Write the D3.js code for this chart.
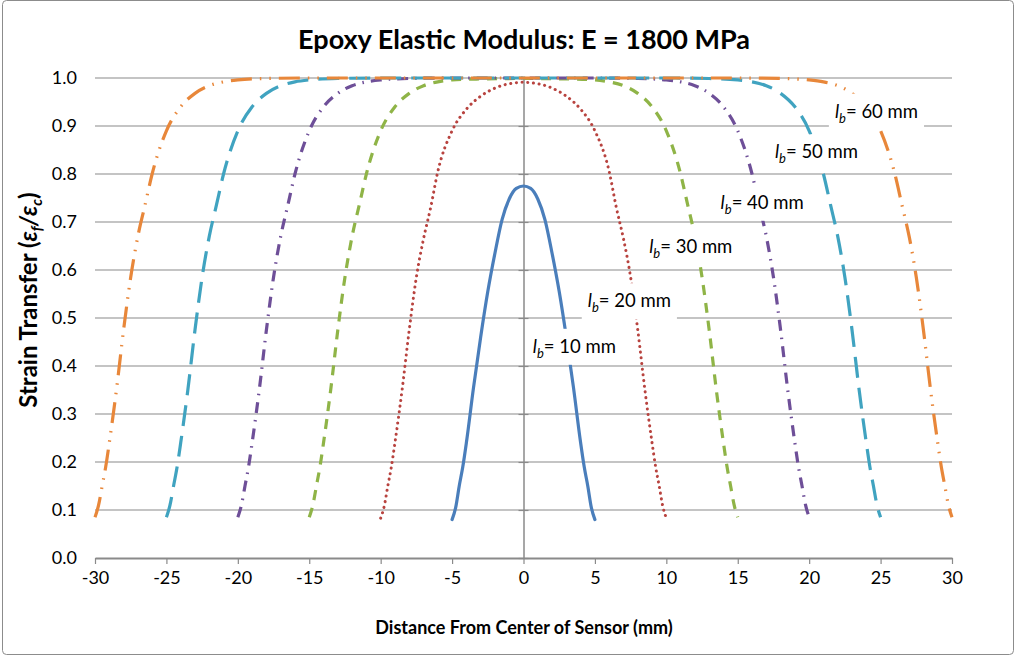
<!DOCTYPE html>
<html>
<head>
<meta charset="utf-8">
<script src="https://cdn.jsdelivr.net/npm/d3@7"></script>
<style>
  body { margin: 0; background: #fff; }
  text { font-family: Lato, "Open Sans", sans-serif; }
</style>
</head>
<body>
<div id="chart"></div>
<script>
// Chart values
const xTicks = [-30, -25, -20, -15, -10, -5, 0, 5, 10, 15, 20, 25, 30];
const yTicks = [0, 0.1, 0.2, 0.3, 0.4, 0.5, 0.6, 0.7, 0.8, 0.9, 1.0];

const x10 = [-5,-4.75,-4.5,-4.25,-4,-3.5,-3,-2.5,-2,-1.5,-1,-0.5,0,0.5,1,1.5,2,2.5,3,3.5,4,4.25,4.5,4.75,5];
const y10 = [0.08,0.105,0.15,0.19,0.24,0.355,0.46,0.555,0.635,0.705,0.748,0.77,0.775,0.77,0.748,0.705,0.635,0.555,0.46,0.355,0.24,0.19,0.15,0.105,0.08];

const x20 = [-10,-9.75,-9.5,-9.25,-9,-8.5,-8,-7.5,-7,-6.5,-6,-5,-4,-3,-2,-1,0,1,2,3,4,5,6,6.5,7,7.5,8,8.5,9,9.25,9.5,9.75,10];
const y20 = [0.083,0.108,0.15,0.19,0.24,0.35,0.475,0.585,0.665,0.73,0.805,0.89,0.935,0.962,0.979,0.988,0.991,0.988,0.979,0.962,0.935,0.89,0.805,0.73,0.665,0.585,0.475,0.35,0.24,0.19,0.15,0.108,0.083];

const x30 = [-15,-14.75,-14.5,-14.25,-14,-13.5,-13,-12.5,-12,-11.5,-11,-10,-9,-8,-7,-6,-5,-3,0,3,5,6,7,8,9,10,11,11.5,12,12.5,13,13.5,14,14.25,14.5,14.75,15];
const y30 = [0.085,0.11,0.15,0.19,0.24,0.35,0.475,0.585,0.67,0.735,0.8,0.89,0.94,0.968,0.984,0.992,0.996,0.998,0.999,0.998,0.996,0.992,0.984,0.968,0.94,0.89,0.8,0.735,0.67,0.585,0.475,0.35,0.24,0.19,0.15,0.11,0.085];

const x40 = [-20,-19.75,-19.5,-19.25,-19,-18.5,-18,-17.5,-17,-16.5,-16,-15,-14,-13,-12,-11,-10,-8,-5,0,5,8,10,11,12,13,14,15,16,16.5,17,17.5,18,18.5,19,19.25,19.5,19.75,20];
const y40 = [0.085,0.11,0.15,0.19,0.24,0.35,0.475,0.585,0.67,0.735,0.8,0.89,0.94,0.968,0.984,0.992,0.996,0.999,1,1,1,0.999,0.996,0.992,0.984,0.968,0.94,0.89,0.8,0.735,0.67,0.585,0.475,0.35,0.24,0.19,0.15,0.11,0.085];

const x50 = [-25,-24.75,-24.5,-24.25,-24,-23.5,-23,-22.5,-22,-21.5,-21,-20,-19,-18,-17,-16,-15,-13,-10,0,10,13,15,16,17,18,19,20,21,21.5,22,22.5,23,23.5,24,24.25,24.5,24.75,25];
const y50 = [0.085,0.11,0.15,0.19,0.24,0.35,0.475,0.585,0.67,0.735,0.8,0.89,0.94,0.968,0.984,0.992,0.996,0.999,1,1,1,0.999,0.996,0.992,0.984,0.968,0.94,0.89,0.8,0.735,0.67,0.585,0.475,0.35,0.24,0.19,0.15,0.11,0.085];

const x60 = [-30,-29.75,-29.5,-29.25,-29,-28.5,-28,-27.5,-27,-26.5,-26,-25,-24,-23,-22,-21,-20,-18,-15,0,15,18,20,21,22,23,24,25,26,26.5,27,27.5,28,28.5,29,29.25,29.5,29.75,30];
const y60 = [0.085,0.11,0.15,0.19,0.24,0.35,0.475,0.585,0.67,0.735,0.8,0.89,0.94,0.968,0.984,0.992,0.996,0.999,1,1,1,0.999,0.996,0.992,0.984,0.968,0.94,0.89,0.8,0.735,0.67,0.585,0.475,0.35,0.24,0.19,0.15,0.11,0.085];

const labels = ["10", "20", "30", "40", "50", "60"];
const labelX = [0.65, 4.5, 8.8, 13.8, 17.6, 21.8];   // left edge of each label, in mm
const labelY = [0.44, 0.535, 0.647, 0.74, 0.845, 0.93]; // label centre, strain transfer

// Set dimensions
const width = 1016, height = 656;
const mLeft = 95, mRight = 952, mTop = 78, mBottom = 558;

const svg = d3.select("#chart").append("svg")
  .attr("width", width).attr("height", height);

svg.append("rect")
  .attr("x", 2.5).attr("y", 0.5).attr("width", 1011).attr("height", 654)
  .attr("rx", 4).attr("fill", "#fff").attr("stroke", "#8c8c8c");

const x = d3.scaleLinear().domain([-30, 30]).range([mLeft, mRight]);
const y = d3.scaleLinear().domain([0, 1]).range([mBottom, mTop]);

// Gridlines
svg.append("g")
  .selectAll("line")
  .data(yTicks.slice(1)).enter()
  .append("line")
  .attr("x1", mLeft).attr("x2", mRight)
  .attr("y1", d => y(d)).attr("y2", d => y(d))
  .attr("stroke", "#8a8a8a").attr("stroke-width", 1.2);

// Y tick labels (at the left edge)
svg.append("g")
  .selectAll("text")
  .data(yTicks).enter()
  .append("text")
  .attr("x", 77).attr("y", d => y(d) + 6)
  .attr("text-anchor", "end")
  .attr("font-size", 18)
  .text(d => d.toFixed(1));

// Vertical axis at x = 0
const yAxis = svg.append("g")
  .attr("transform", "translate(" + x(0) + ",0)")
  .call(d3.axisLeft(y).tickValues(yTicks).tickSize(0).tickFormat(""));
yAxis.select(".domain").attr("stroke", "#8a8a8a").attr("stroke-width", 1.5);
yAxis.selectAll(".tick line").remove();
yAxis.selectAll(".tick").append("line")
  .attr("x1", -5).attr("x2", 5).attr("stroke", "#8a8a8a").attr("stroke-width", 1.2);

// X axis at bottom
const xAxis = svg.append("g")
  .attr("transform", "translate(0," + mBottom + ")")
  .call(d3.axisBottom(x).tickValues(xTicks).tickSize(6).tickPadding(7)
    .tickSizeOuter(0).tickFormat(d => String(d)));
xAxis.select(".domain").attr("stroke", "#8a8a8a").attr("stroke-width", 1.8);
xAxis.selectAll(".tick line").attr("stroke", "#8a8a8a").attr("stroke-width", 1.2);
xAxis.selectAll(".tick text")
  .attr("font-size", 18).attr("fill", "#000")
  .style("font-family", "Lato, sans-serif");

// Series
const series = [
  { xs: x10, ys: y10, color: "#4a7ebb", dash: null, cap: "round" },
  { xs: x20, ys: y20, color: "#b8433f", dash: "0.1 5.6", cap: "round" },
  { xs: x30, ys: y30, color: "#8fb447", dash: "10 8", cap: "butt" },
  { xs: x40, ys: y40, color: "#6e4f98", dash: "11 7 1.5 7", cap: "butt" },
  { xs: x50, ys: y50, color: "#40a3c0", dash: "21 10", cap: "butt" },
  { xs: x60, ys: y60, color: "#e8873a", dash: "21 8 1.5 8 1.5 8", cap: "butt" }
];

const line = d3.line()
  .x(d => x(d[0]))
  .y(d => y(d[1]))
  .curve(d3.curveMonotoneX);

svg.append("g")
  .selectAll("path")
  .data(series).enter()
  .append("path")
  .attr("d", s => line(s.xs.map((v, i) => [v, s.ys[i]])))
  .attr("fill", "none")
  .attr("stroke", s => s.color)
  .attr("stroke-width", s => s.dash === "0.1 5.6" ? 3 : 3.2)
  .attr("stroke-linecap", s => s.cap)
  .attr("stroke-dasharray", s => s.dash);

// Curve labels with white backing
const lab = svg.append("g");
labels.forEach(function (t, i) {
  const g = lab.append("g");
  const txt = g.append("text")
    .attr("x", x(labelX[i])).attr("y", y(labelY[i]) + 6)
    .attr("font-size", 18.5);
  txt.append("tspan").attr("font-style", "italic").text("l");
  txt.append("tspan").attr("font-style", "italic").attr("font-size", 13)
    .attr("dy", 5).text("b");
  txt.append("tspan").attr("dy", -5).text("= " + t + " mm");
  const b = txt.node().getBBox();
  g.insert("rect", "text")
    .attr("x", b.x - 6).attr("y", b.y - 6)
    .attr("width", b.width + 12).attr("height", b.height + 10)
    .attr("fill", "#fff");
});

// Title and axis titles
svg.append("text")
  .attr("x", 524).attr("y", 49)
  .attr("text-anchor", "middle")
  .attr("font-size", 27).attr("font-weight", "bold")
  .text("Epoxy Elastic Modulus: E = 1800 MPa");

svg.append("text")
  .attr("x", 524).attr("y", 634)
  .attr("text-anchor", "middle")
  .attr("font-size", 18).attr("font-weight", "bold")
  .text("Distance From Center of Sensor (mm)");

const yt = svg.append("text")
  .attr("transform", "translate(37,300) rotate(-90)")
  .attr("text-anchor", "middle")
  .attr("font-size", 24).attr("font-weight", "bold");
yt.append("tspan").text("Strain Transfer (");
yt.append("tspan").attr("font-style", "italic").text("ε");
yt.append("tspan").attr("font-style", "italic").attr("font-size", 15).attr("dy", 5).text("f");
yt.append("tspan").attr("font-style", "italic").attr("dy", -5).text("/ε");
yt.append("tspan").attr("font-style", "italic").attr("font-size", 15).attr("dy", 5).text("c");
yt.append("tspan").attr("dy", -5).text(")");
</script>
</body>
</html>
